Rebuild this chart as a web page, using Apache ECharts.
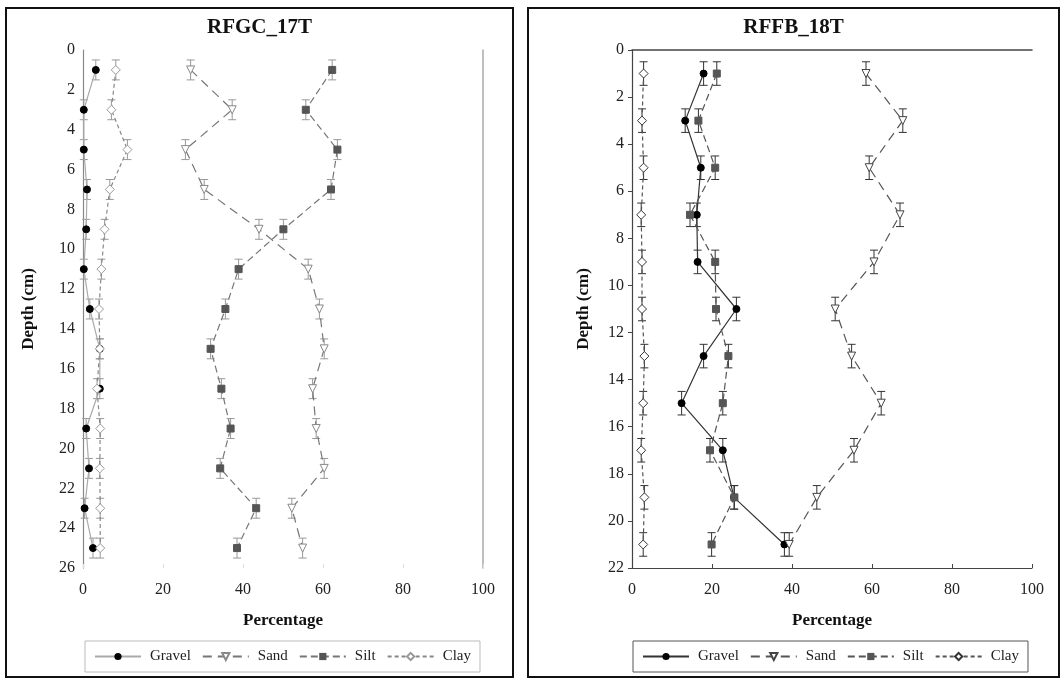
<!DOCTYPE html>
<html><head><meta charset="utf-8">
<script src="https://cdn.jsdelivr.net/npm/echarts@6/dist/echarts.min.js"></script>
<style>
html,body{margin:0;padding:0;background:#fff;width:1064px;height:679px;overflow:hidden;}
.panel{position:absolute;border:2px solid #111;box-sizing:border-box;background:#fff;}
#pa{left:5px;top:7px;width:509px;height:671px;}
#pb{left:527px;top:7px;width:533px;height:671px;}
.chart{position:absolute;left:0;top:0;width:100%;height:100%;}
</style></head>
<body>
<div class="panel" id="pa"><div class="chart" id="ca"></div></div>
<div class="panel" id="pb"><div class="chart" id="cb"></div></div>
<script>
// ---- Data: RFGC_17T ----
const depthsA = [1,3,5,7,9,11,13,15,17,19,21,23,25];
const gravelA = [3.2,0.2,0.2,1.0,0.8,0.2,1.7,4.2,4.2,0.8,1.5,0.4,2.5];
const sandA   = [26.9,37.3,25.6,30.3,44.0,56.3,59.1,60.3,57.4,58.3,60.3,52.2,54.9];
const siltA   = [62.3,55.7,63.6,62.0,50.1,38.9,35.6,31.9,34.6,36.9,34.3,43.3,38.5];
const clayA   = [8.2,7.1,11.1,6.7,5.4,4.6,4.0,4.2,3.5,4.3,4.2,4.3,4.3];
// ---- Data: RFFB_18T ----
const depthsB = [1,3,5,7,9,11,13,15,17,19,21];
const gravelB = [17.9,13.3,17.2,16.2,16.4,26.1,17.9,12.4,22.7,25.5,38.1];
const sandB   = [58.5,67.7,59.3,67.0,60.5,50.8,54.9,62.3,55.5,46.2,39.3];
const siltB   = [21.2,16.6,20.8,14.5,20.8,21.0,24.1,22.7,19.5,25.6,19.9];
const clayB   = [2.9,2.5,2.9,2.3,2.5,2.5,3.1,2.8,2.3,3.1,2.8];
const depthErr = 0.5; // depth-interval half width (error bars)
const seriesNames = ['Gravel','Sand','Silt','Clay'];
const titles = ['RFGC_17T','RFFB_18T'];
const xTicks = {min:0,max:100,interval:20};

const FONT = '"Liberation Serif","Times New Roman",serif';

function pairs(vals, depths){ return vals.map((v,i)=>[v, depths[i]]); }

function errSeries(vals, depths, color){
  return {
    type:'custom', silent:true, z:1,
    data: pairs(vals, depths),
    renderItem:function(params, api){
      const x = api.value(0), d = api.value(1);
      const p1 = api.coord([x, d - depthErr]);
      const p2 = api.coord([x, d + depthErr]);
      const cw = 4;
      const st = {stroke:color, lineWidth:1};
      return {type:'group', children:[
        {type:'line', shape:{x1:p1[0],y1:p1[1],x2:p2[0],y2:p2[1]}, style:st},
        {type:'line', shape:{x1:p1[0]-cw,y1:p1[1],x2:p1[0]+cw,y2:p1[1]}, style:st},
        {type:'line', shape:{x1:p2[0]-cw,y1:p2[1],x2:p2[0]+cw,y2:p2[1]}, style:st}
      ]};
    }
  };
}

function build(cfg){
  const v = cfg.vals, dep = cfg.depths, sty = cfg.sty;
  const series = [];
  v.forEach((vals, k)=>{ series.push(errSeries(vals, dep, cfg.errColor)); });
  const defs = [
    {symbol:'circle', symbolSize:7, lineType:'solid', lineColor:sty.gravelLine, item:{color:'#000', borderColor:'#000'}},
    {symbol:'triangle', symbolRotate:180, symbolSize:8, lineType:[9,6], lineColor:sty.sandLine, item:{color:'#fff', borderColor:sty.sandMarker, borderWidth:1}},
    {symbol:'rect', symbolSize:7, lineType:[7,4], lineColor:sty.siltLine, item:{color:sty.siltFill, borderColor:sty.siltFill}},
    {symbol:'diamond', symbolSize:9, lineType:[4,3], lineColor:sty.clayLine, item:{color:'#fff', borderColor:sty.clayMarker, borderWidth:1}}
  ];
  v.forEach((vals,k)=>{
    const d = defs[k];
    series.push({
      name: seriesNames[k], type:'line', z:3,
      data: pairs(vals, dep),
      symbol:d.symbol, symbolSize:d.symbolSize, symbolRotate:d.symbolRotate||0,
      showAllSymbol:true,
      lineStyle:{color:d.lineColor, width:1.2, type:d.lineType},
      itemStyle:Object.assign({opacity:1}, d.item),
      emphasis:{disabled:true}, animation:false
    });
  });
  const yBase = {type:'value', inverse:true, min:0, max:cfg.yMax, interval:2};
  return {
    animation:false,
    title:{text:cfg.title, left:'center', top:3, textStyle:{fontFamily:FONT, fontWeight:'bold', fontSize:21, color:'#111'}},
    grid:{left:cfg.gridLeft, top:41, width:400, height:518},
    legend:{
      data:seriesNames, left:cfg.legendLeft, top:632, width:440,
      itemWidth:46, itemHeight:9, itemGap:11,
      padding:[8,9,8,9],
      borderColor:cfg.legendBorder, borderWidth:1,
      textStyle:{fontFamily:FONT, fontSize:15, color:'#222', padding:[0,0,0,4]},
      selectedMode:false
    },
    xAxis:[{
      type:'value', position:'bottom', min:xTicks.min, max:xTicks.max, interval:xTicks.interval,
      name:'Percentage', nameLocation:'middle', nameGap:44,
      nameTextStyle:{fontFamily:FONT, fontWeight:'bold', fontSize:17, color:'#111'},
      axisLine:{show:cfg.showBottom, onZero:false, lineStyle:{color:cfg.axisColor, width:1}},
      axisTick:{show:true, inside:true, length:4, lineStyle:{color:cfg.showBottom?cfg.axisColor:'#ddd'}},
      axisLabel:{fontFamily:FONT, fontSize:16, color:'#222', margin:14},
      splitLine:{show:false}
    },{
      type:'value', position:'top', min:xTicks.min, max:xTicks.max,
      axisLine:{show:cfg.showTop, onZero:false, lineStyle:{color:cfg.axisColor, width:1.5}},
      axisTick:{show:false}, axisLabel:{show:false}, splitLine:{show:false}
    }],
    yAxis:[Object.assign({}, yBase, {
      position:'left',
      name:'Depth (cm)', nameLocation:'middle', nameGap:cfg.nameGap, nameRotate:90,
      nameTextStyle:{fontFamily:FONT, fontWeight:'bold', fontSize:17, color:'#111'},
      axisLine:{show:true, onZero:false, lineStyle:{color:cfg.axisColor, width:1.2}},
      axisTick:{show:cfg.yTicks, length:4, lineStyle:{color:cfg.axisColor}},
      axisLabel:{fontFamily:FONT, fontSize:16, color:'#222', margin:8},
      splitLine:{show:false}
    }), Object.assign({}, yBase, {
      position:'right',
      axisLine:{show:cfg.showRight, onZero:false, lineStyle:{color:'#aaa', width:1.5}},
      axisTick:{show:false}, axisLabel:{show:false}, splitLine:{show:false}
    })],
    series: series
  };
}

const chartA = echarts.init(document.getElementById('ca'), null, {renderer:'canvas'});
chartA.setOption(build({
  title:titles[0], depths:depthsA, vals:[gravelA,sandA,siltA,clayA], yMax:26,
  gridLeft:76, legendLeft:78, nameGap:46, errColor:'#999', axisColor:'#888',
  legendBorder:'#bbb', showBottom:false, showTop:false, showRight:true, yTicks:false,
  sty:{gravelLine:'#aaa', sandLine:'#777', sandMarker:'#888', siltLine:'#777', siltFill:'#555', clayLine:'#888', clayMarker:'#999'}
}));
const chartB = echarts.init(document.getElementById('cb'), null, {renderer:'canvas'});
chartB.setOption(build({
  title:titles[1], depths:depthsB, vals:[gravelB,sandB,siltB,clayB], yMax:22,
  gridLeft:103, legendLeft:104, nameGap:40, errColor:'#333', axisColor:'#444',
  legendBorder:'#555', showBottom:true, showTop:true, showRight:false, yTicks:true,
  sty:{gravelLine:'#333', sandLine:'#555', sandMarker:'#444', siltLine:'#555', siltFill:'#555', clayLine:'#555', clayMarker:'#333'}
}));
</script>
</body></html>
